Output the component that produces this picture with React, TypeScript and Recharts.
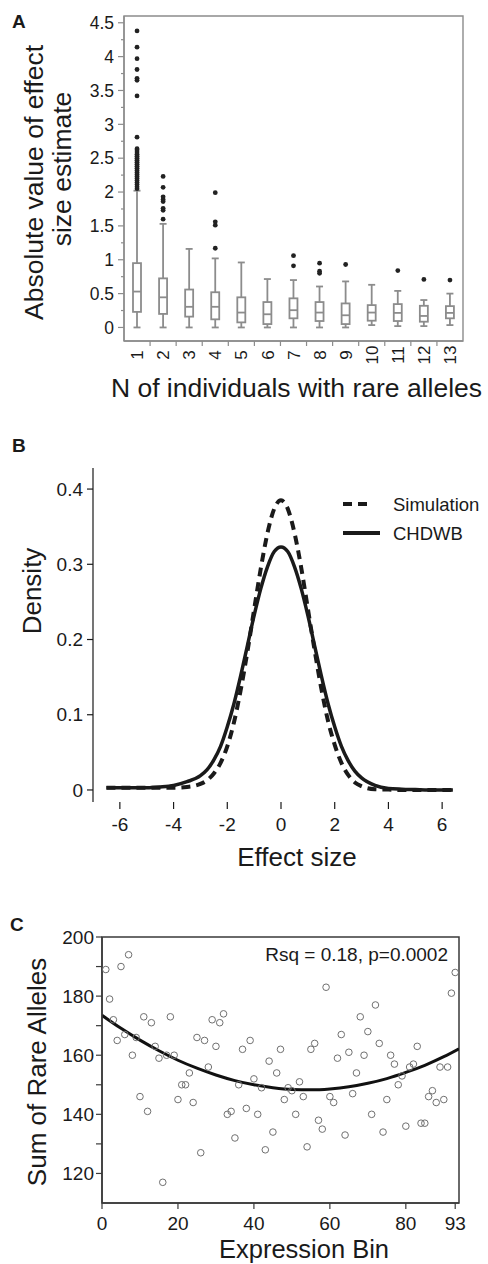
import React from 'react'
import {
  ComposedChart,
  LineChart,
  Line,
  Bar,
  Scatter,
  XAxis,
  YAxis,
  ReferenceArea,
  Legend,
} from 'recharts'

const FONT = '"Liberation Sans", Arial, Helvetica, sans-serif'
const INK = '#1a1a1a'
const A_GRAY = '#8c8c8c'
const C_FRAME = '#3a3a3a'

// ---- panel A: effect size by number of carriers ----
const carrierCounts = [1, 2, 3, 4, 5, 6, 7, 8, 9, 10, 11, 12, 13]
const whiskerLow = [0, 0, 0, 0, 0, 0, 0, 0, 0, 0.035, 0.02, 0.02, 0.035]
const quartile1 = [0.23, 0.2, 0.16, 0.12, 0.075, 0.05, 0.135, 0.095, 0.05, 0.1, 0.095, 0.085, 0.135]
const medians = [0.53, 0.445, 0.305, 0.305, 0.22, 0.195, 0.255, 0.22, 0.18, 0.22, 0.215, 0.17, 0.215]
const quartile3 = [0.95, 0.725, 0.56, 0.52, 0.445, 0.375, 0.43, 0.375, 0.355, 0.33, 0.345, 0.32, 0.315]
const whiskerHigh = [2.02, 1.53, 1.16, 1.02, 0.96, 0.715, 0.7, 0.605, 0.68, 0.63, 0.54, 0.405, 0.5]
const outliers = [
  [2.05, 2.08, 2.11, 2.14, 2.17, 2.2, 2.23, 2.26, 2.29, 2.32, 2.35, 2.38, 2.41, 2.44, 2.47, 2.5, 2.53, 2.56, 2.59, 2.62, 2.64, 2.81, 3.42, 3.65, 3.68, 3.81, 3.97, 4.14, 4.38],
  [1.6, 1.73, 1.76, 1.86, 1.89, 1.93, 2.07, 2.23],
  [],
  [1.17, 1.51, 1.56, 1.99],
  [],
  [],
  [0.91, 1.06],
  [0.8, 0.83, 0.95],
  [0.93],
  [],
  [0.84],
  [0.71],
  [0.7],
]
const aYTicks = [0, 0.25, 0.5, 0.75, 1, 1.25, 1.5, 1.75, 2, 2.25, 2.5, 2.75, 3, 3.25, 3.5, 3.75, 4, 4.25, 4.5]
const aXTicks = [1, 1.5, 2, 2.5, 3, 3.5, 4, 4.5, 5, 5.5, 6, 6.5, 7, 7.5, 8, 8.5, 9, 9.5, 10, 10.5, 11, 11.5, 12, 12.5, 13]

// ---- panel B: density of effect sizes ----
const effectX = [-6.5, -6, -5.5, -5, -4.5, -4, -3.5, -3, -2.75, -2.5, -2.25, -2, -1.75, -1.5, -1.25, -1, -0.75, -0.5, -0.25, 0, 0.25, 0.5, 0.75, 1, 1.25, 1.5, 1.75, 2, 2.25, 2.5, 2.75, 3, 3.5, 4, 4.5, 5, 5.5, 6, 6.4]
const simulationDensity = [0.003, 0.003, 0.003, 0.003, 0.003, 0.003, 0.004, 0.008, 0.013, 0.022, 0.036, 0.058, 0.09, 0.133, 0.184, 0.24, 0.295, 0.342, 0.374, 0.385, 0.374, 0.342, 0.296, 0.241, 0.186, 0.135, 0.092, 0.06, 0.036, 0.02, 0.01, 0.005, 0.001, 0.0005, 0, 0, 0, 0, 0]
const chdwbDensity = [0.003, 0.003, 0.003, 0.003, 0.004, 0.006, 0.011, 0.019, 0.027, 0.04, 0.058, 0.084, 0.115, 0.152, 0.192, 0.232, 0.268, 0.297, 0.317, 0.323, 0.317, 0.297, 0.268, 0.232, 0.192, 0.152, 0.115, 0.084, 0.058, 0.039, 0.025, 0.016, 0.006, 0.002, 0.001, 0.0005, 0, 0, 0]
const densitySeries = ['Simulation', 'CHDWB']
const bXTicks = [-6, -4, -2, 0, 2, 4, 6]
const bYTicks = [0, 0.1, 0.2, 0.3, 0.4]

// ---- panel C: rare alleles by expression bin ----
const expressionBins = Array.from({ length: 93 }, (_, i) => i + 1)
const rareAlleleSums = [
  189, 179, 172, 165, 190, 167, 194, 160, 166, 146,
  173, 141, 171, 163, 159, 117, 160, 173, 160, 145,
  150, 150, 154, 144, 166, 127, 165, 156, 172, 163,
  171, 174, 140, 141, 132, 150, 162, 142, 165, 152,
  140, 149, 128, 158, 134, 154, 162, 145, 149, 148,
  140, 151, 146, 129, 162, 164, 138, 135, 183, 146,
  144, 159, 167, 133, 161, 147, 154, 173, 160, 168,
  140, 177, 164, 134, 145, 160, 157, 150, 153, 136,
  156, 157, 163, 137, 137, 146, 148, 144, 156, 145,
  156, 181, 188,
]
const fitX = [0, 5, 10, 15, 20, 25, 30, 35, 40, 45, 50, 55, 60, 65, 70, 75, 80, 85, 90, 94]
const fitY = [173.5, 169.1, 165.1, 161.5, 158.3, 155.6, 153.3, 151.4, 150.0, 149.0, 148.4, 148.3, 148.6, 149.3, 150.5, 152.1, 154.2, 156.6, 159.5, 162.2]
const cXTicks = [0, 20, 40, 60, 80, 93]
const cYTicks = [120, 130, 140, 150, 160, 170, 180, 190, 200]

const boxData = carrierCounts.map((n, i) => ({
  n,
  lo: whiskerLow[i],
  q1: quartile1[i],
  med: medians[i],
  q3: quartile3[i],
  hi: whiskerHigh[i],
}))
const outlierData = carrierCounts.flatMap((n, i) => outliers[i].map((v) => ({ n, v })))
const densityData = effectX.map((x, i) => ({ x, sim: simulationDensity[i], chd: chdwbDensity[i] }))
const scatterData = expressionBins.map((x, i) => ({ x, y: rareAlleleSums[i] }))
const fitData = fitX.map((x, i) => ({ x, y: fitY[i] }))

function BoxShape(props: any) {
  const { x, y, width, height } = props
  const d = props.payload ?? props
  const top = Math.min(y, y + height)
  const bottom = Math.max(y, y + height)
  const k = (bottom - top) / (d.hi - d.lo)
  const toY = (v: number) => bottom - (v - d.lo) * k
  const cx = x + width / 2
  const cap = 3.5
  return (
    <g stroke={A_GRAY} strokeWidth={1.8} fill="none">
      <line x1={cx} x2={cx} y1={toY(d.hi)} y2={toY(d.q3)} />
      <line x1={cx} x2={cx} y1={toY(d.q1)} y2={toY(d.lo)} />
      <line x1={cx - cap} x2={cx + cap} y1={toY(d.hi)} y2={toY(d.hi)} />
      <line x1={cx - cap} x2={cx + cap} y1={toY(d.lo)} y2={toY(d.lo)} />
      <rect x={x} y={toY(d.q3)} width={width} height={toY(d.q1) - toY(d.q3)} fill="#fff" />
      <line x1={x} x2={x + width} y1={toY(d.med)} y2={toY(d.med)} />
    </g>
  )
}

function AYTick({ x, y, payload }: any) {
  const v = payload.value
  const major = Math.abs(v * 2 - Math.round(v * 2)) < 1e-6
  return (
    <g>
      <line x1={x - (major ? 6 : 3)} x2={x} y1={y} y2={y} stroke={A_GRAY} strokeWidth={1.2} />
      {major && (
        <text x={x - 10} y={y} dy="0.36em" textAnchor="end" fontSize={17.5} fill={INK} fontFamily={FONT}>
          {String(v)}
        </text>
      )}
    </g>
  )
}

function AXTick({ x, y, payload }: any) {
  const v = payload.value
  if (Number.isInteger(v)) {
    return (
      <text
        transform={`translate(${x},${y + 14}) rotate(-90)`}
        dy="0.36em"
        textAnchor="middle"
        fontSize={17}
        fill={INK}
        fontFamily={FONT}
      >
        {v}
      </text>
    )
  }
  return <line x1={x} x2={x} y1={y} y2={y + 5} stroke={A_GRAY} strokeWidth={1.2} />
}

function CYTick({ x, y, payload }: any) {
  const v = payload.value
  return (
    <g>
      <line x1={x - 6} x2={x} y1={y} y2={y} stroke={C_FRAME} strokeWidth={1.2} />
      {v % 20 === 0 && (
        <text x={x - 8} y={y} dy="0.36em" textAnchor="end" fontSize={19} fill={INK} fontFamily={FONT}>
          {v}
        </text>
      )}
    </g>
  )
}

function DensityLegend({ payload }: any) {
  const items = [...(payload ?? [])].sort(
    (a: any, b: any) => densitySeries.indexOf(a.value) - densitySeries.indexOf(b.value)
  )
  return (
    <svg width={148} height={58}>
      {items.map((item: any, i: number) => {
        const cy = 14 + i * 29
        const dash = item.payload?.strokeDasharray
        return (
          <g key={item.value}>
            <line
              x1={3}
              x2={dash ? 33 : 40}
              y1={cy}
              y2={cy}
              stroke={INK}
              strokeWidth={4}
              strokeDasharray={dash}
            />
            <text x={53} y={cy} dy="0.36em" fontSize={18.5} fill={INK} fontFamily={FONT}>
              {item.value}
            </text>
          </g>
        )
      })}
    </svg>
  )
}

function OpenCircle(props: any) {
  return <circle cx={props.cx} cy={props.cy} r={3.3} fill="none" stroke="#707070" strokeWidth={1} />
}

function Dot(props: any) {
  return <circle cx={props.cx} cy={props.cy} r={2.4} fill="#222" />
}

export default function App() {
  return (
    <div
      style={{
        position: 'absolute',
        left: 0,
        top: 0,
        width: 488,
        height: 1264,
        overflow: 'hidden',
        background: '#fff',
        fontFamily: FONT,
        color: INK,
      }}
    >
      <div style={{ position: 'absolute', left: 0, top: 0 }}>
        <ComposedChart width={488} height={420} data={boxData} margin={{ top: 16, right: 25, bottom: 0, left: 0 }}>
          <ReferenceArea x1={0.5} x2={13.5} y1={-0.2} y2={4.6} fill="none" stroke={A_GRAY} strokeWidth={1.4} />
          <XAxis
            type="number"
            dataKey="n"
            domain={[0.5, 13.5]}
            ticks={aXTicks}
            interval={0}
            allowDataOverflow
            height={79}
            tickSize={0}
            tickMargin={0}
            axisLine={{ stroke: A_GRAY, strokeWidth: 1.4 }}
            tick={<AXTick />}
          />
          <YAxis
            type="number"
            domain={[-0.2, 4.6]}
            ticks={aYTicks}
            interval={0}
            allowDataOverflow
            width={124}
            tickSize={0}
            tickMargin={0}
            axisLine={{ stroke: A_GRAY, strokeWidth: 1.4 }}
            tick={<AYTick />}
          />
          <Bar dataKey={(d: any) => [d.lo, d.hi]} barSize={8} shape={BoxShape} isAnimationActive={false} />
          <Scatter data={outlierData} dataKey="v" shape={Dot} isAnimationActive={false} />
        </ComposedChart>
      </div>

      <div style={{ position: 'absolute', left: 0, top: 420 }}>
        <LineChart width={488} height={420} data={densityData} margin={{ top: 48, right: 19, bottom: 0, left: 0 }}>
          <XAxis
            type="number"
            dataKey="x"
            domain={[-7, 7]}
            ticks={bXTicks}
            interval={0}
            height={38}
            axisLine={false}
            tickSize={7}
            tickMargin={9}
            tickLine={{ stroke: INK, strokeWidth: 1.2 }}
            tick={{ fontSize: 19, fill: INK }}
          />
          <YAxis
            type="number"
            domain={[-0.016, 0.428]}
            ticks={bYTicks}
            interval={0}
            allowDataOverflow
            width={93}
            tickSize={6}
            tickMargin={4}
            axisLine={{ stroke: INK, strokeWidth: 1.2 }}
            tickLine={{ stroke: INK, strokeWidth: 1.2 }}
            tick={{ fontSize: 19, fill: INK }}
            tickFormatter={(v: number) => (v === 0 ? '0' : v.toFixed(1))}
          />
          <Legend
            layout="horizontal"
            verticalAlign="middle"
            align="center"
            wrapperStyle={{ left: 340, top: 70, width: 148 }}
            content={<DensityLegend />}
          />
          <Line
            type="monotone"
            dataKey="sim"
            name="Simulation"
            stroke={INK}
            strokeWidth={4}
            strokeDasharray="9 6"
            dot={false}
            isAnimationActive={false}
          />
          <Line
            type="monotone"
            dataKey="chd"
            name="CHDWB"
            stroke={INK}
            strokeWidth={3.5}
            dot={false}
            isAnimationActive={false}
          />
        </LineChart>
      </div>

      <div style={{ position: 'absolute', left: 0, top: 840 }}>
        <ComposedChart width={488} height={424} margin={{ top: 97, right: 29, bottom: 0, left: 0 }}>
          <ReferenceArea x1={0} x2={94} y1={110} y2={200} fill="none" stroke={C_FRAME} strokeWidth={1.5} />
          <XAxis
            type="number"
            dataKey="x"
            domain={[0, 94]}
            ticks={cXTicks}
            interval={0}
            allowDataOverflow
            height={61}
            tickSize={6}
            tickMargin={8}
            axisLine={{ stroke: C_FRAME, strokeWidth: 1.5 }}
            tickLine={{ stroke: C_FRAME, strokeWidth: 1.2 }}
            tick={{ fontSize: 19, fill: INK }}
          />
          <YAxis
            type="number"
            domain={[110, 200]}
            ticks={cYTicks}
            interval={0}
            allowDataOverflow
            width={102}
            tickSize={0}
            tickMargin={0}
            axisLine={{ stroke: C_FRAME, strokeWidth: 1.5 }}
            tick={<CYTick />}
          />
          <Scatter data={scatterData} dataKey="y" shape={OpenCircle} isAnimationActive={false} />
          <Line
            data={fitData}
            dataKey="y"
            type="monotone"
            stroke="#111"
            strokeWidth={3}
            dot={false}
            isAnimationActive={false}
          />
        </ComposedChart>
      </div>

      <svg
        width={488}
        height={1264}
        style={{ position: 'absolute', left: 0, top: 0, pointerEvents: 'none' }}
        fontFamily={FONT}
        fill={INK}
      >
        <text x={12} y={28} fontSize={19} fontWeight="bold">A</text>
        <text transform="translate(42.5,182.5) rotate(-90)" textAnchor="middle" fontSize={26.5}>
          Absolute value of effect
        </text>
        <text transform="translate(71,169) rotate(-90)" textAnchor="middle" fontSize={26.5}>
          size estimate
        </text>
        <text x={296.5} y={397} textAnchor="middle" fontSize={26.5}>
          N of individuals with rare alleles
        </text>

        <text x={12} y={452} fontSize={19} fontWeight="bold">B</text>
        <text transform="translate(41,591) rotate(-90)" textAnchor="middle" fontSize={26}>
          Density
        </text>
        <text x={297} y={866} textAnchor="middle" fontSize={26}>
          Effect size
        </text>

        <text x={10} y={931} fontSize={19} fontWeight="bold">C</text>
        <text transform="translate(46,1072) rotate(-90)" textAnchor="middle" fontSize={26}>
          Sum of Rare Alleles
        </text>
        <text x={304} y={1258} textAnchor="middle" fontSize={25.5}>
          Expression Bin
        </text>
        <text x={448} y={961} textAnchor="end" fontSize={19}>
          Rsq = 0.18, p=0.0002
        </text>
      </svg>
    </div>
  )
}
